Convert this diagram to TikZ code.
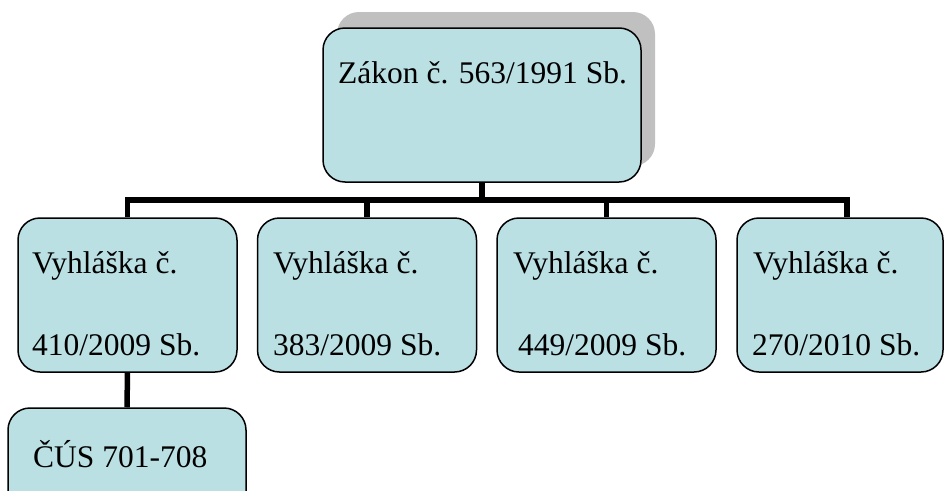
\documentclass[tikz,border=0pt]{standalone}
\usepackage{fontspec}
\setmainfont{Liberation Serif}
\usetikzlibrary{backgrounds}
\definecolor{boxfill}{RGB}{186,224,228}
\definecolor{shadowgray}{RGB}{192,192,192}
\begin{document}
\begin{tikzpicture}[x=1pt,y=-1pt,
  box/.style={draw=black,line width=1.5pt,fill=boxfill,rounded corners=22pt,inner sep=0pt},
  shadowbox/.style={fill=shadowgray,rounded corners=22pt,inner sep=0pt,draw=none},
  conn/.style={line width=5.5pt,draw=black},
  txt/.style={anchor=base west,inner sep=0pt,font=\fontsize{31.5}{38}\selectfont}]
\useasboundingbox (0,0) rectangle (944,490);
\clip (0,0) rectangle (944,490);
% shadow of the top box
\node[shadowbox,minimum width=318pt,minimum height=154pt] (topshadow) at (496,89) {};
\coordinate (hl) at (127.5,200);
\coordinate (hr) at (847,200);
\coordinate (hm) at (482,200);
\node[box,minimum width=318pt,minimum height=154pt] (top) at (482,105) {};
\node[box,minimum width=219pt,minimum height=154pt] (b1) at (127.5,295) {};
\node[box,minimum width=219pt,minimum height=154pt] (b2) at (367,295) {};
\node[box,minimum width=219pt,minimum height=154pt] (b3) at (606.5,295) {};
\node[box,minimum width=206pt,minimum height=154pt] (b4) at (840,295) {};
\node[box,minimum width=238pt,minimum height=130pt] (cus) at (127,473) {};
\begin{pgfonlayer}{background}
  \draw[conn] (top.south) -- (hm);
  \draw[conn] (b1.north) |- (hl) -- (hr) -- (hr |- b4.north);
  \draw[conn] (hm -| b2.north) -- (b2.north);
  \draw[conn] (hm -| b3.north) -- (b3.north);
  \draw[conn] (b1.south) -- (cus.north);
\end{pgfonlayer}
% texts
\node[txt] (ttop) at (338,83) {Zákon č. 563/1991 Sb.};
\node[txt] (t1a) at (32,273) {Vyhláška č.};
\node[txt] (t1b) at (32,355) {410/2009 Sb.};
\node[txt] (t2a) at (273,273) {Vyhláška č.};
\node[txt] (t2b) at (273,355) {383/2009 Sb.};
\node[txt] (t3a) at (513,273) {Vyhláška č.};
\node[txt] (t3b) at (518,355) {449/2009 Sb.};
\node[txt] (t4a) at (753,273) {Vyhláška č.};
\node[txt] (t4b) at (752,355) {270/2010 Sb.};
\node[txt] (tcus) at (33,467) {ČÚS 701-708};
\end{tikzpicture}
\end{document}
